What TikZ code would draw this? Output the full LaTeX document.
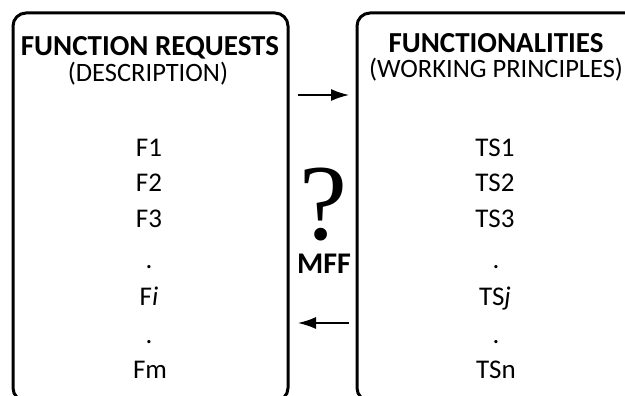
\documentclass[tikz,border=0pt]{standalone}
\usepackage{fontspec}
\setmainfont{Carlito}
\newfontfamily\qfont{Liberation Serif}
\usetikzlibrary{arrows.meta}
\begin{document}
\begin{tikzpicture}[x=1pt,y=-1pt,
  box/.style={draw,line width=3pt,rounded corners=13pt},
  title/.style={font=\fontsize{29}{31}\selectfont\bfseries,inner sep=0pt,anchor=base},
  sub/.style={font=\fontsize{26.5}{28}\selectfont,inner sep=0pt,anchor=base},
  item/.style={font=\fontsize{27}{29}\selectfont,inner sep=0pt,anchor=base},
  arr/.style={line width=1.6pt,-{Latex[length=18pt,width=12pt]}}]
\useasboundingbox (0,0) rectangle (625,396);
\begin{scope}
\clip (0,0) rectangle (625,396);
\draw[box] (13,13) rectangle (288,401);
\draw[box] (357,13) rectangle (645,401);
\end{scope}
\node[title] (t1) at (150,56) {FUNCTION REQUESTS};
\node[sub] (s1) at (148,82) {(DESCRIPTION)};
\node[title] (t2) at (496,53) {FUNCTIONALITIES};
\node[sub] (s2) at (496,78) {(WORKING PRINCIPLES)};
\node[item] (f1) at (149,157) {F1};
\node[item] (f2) at (149,192) {F2};
\node[item] (f3) at (149,227) {F3};
\node[item] (fd1) at (149,268) {.};
\node[item] (fi) at (149,305) {F\textit{i}};
\node[item] (fd2) at (149,343) {.};
\node[item] (fm) at (150,378) {Fm};
\node[item] (ts1) at (495,157) {TS1};
\node[item] (ts2) at (495,192) {TS2};
\node[item] (ts3) at (495,227) {TS3};
\node[item] (tsd1) at (496,268) {.};
\node[item] (tsj) at (495,305) {TS\textit{j}};
\node[item] (tsd2) at (496,343) {.};
\node[item] (tsn) at (496,378) {TSn};
\node[inner sep=0pt,anchor=base,font=\qfont\fontsize{108}{108}\selectfont] (q) at (323,240) {?};
\node[title,font=\fontsize{30}{32}\selectfont\bfseries] (mff) at (324,273) {MFF};
\coordinate (a1s) at (298,95);
\coordinate (a1e) at (349,95);
\coordinate (a2s) at (349,323);
\coordinate (a2e) at (298,323);
\draw[arr] (a1s) -- (a1e);
\draw[arr] (a2s) -- (a2e);
\end{tikzpicture}
\end{document}
